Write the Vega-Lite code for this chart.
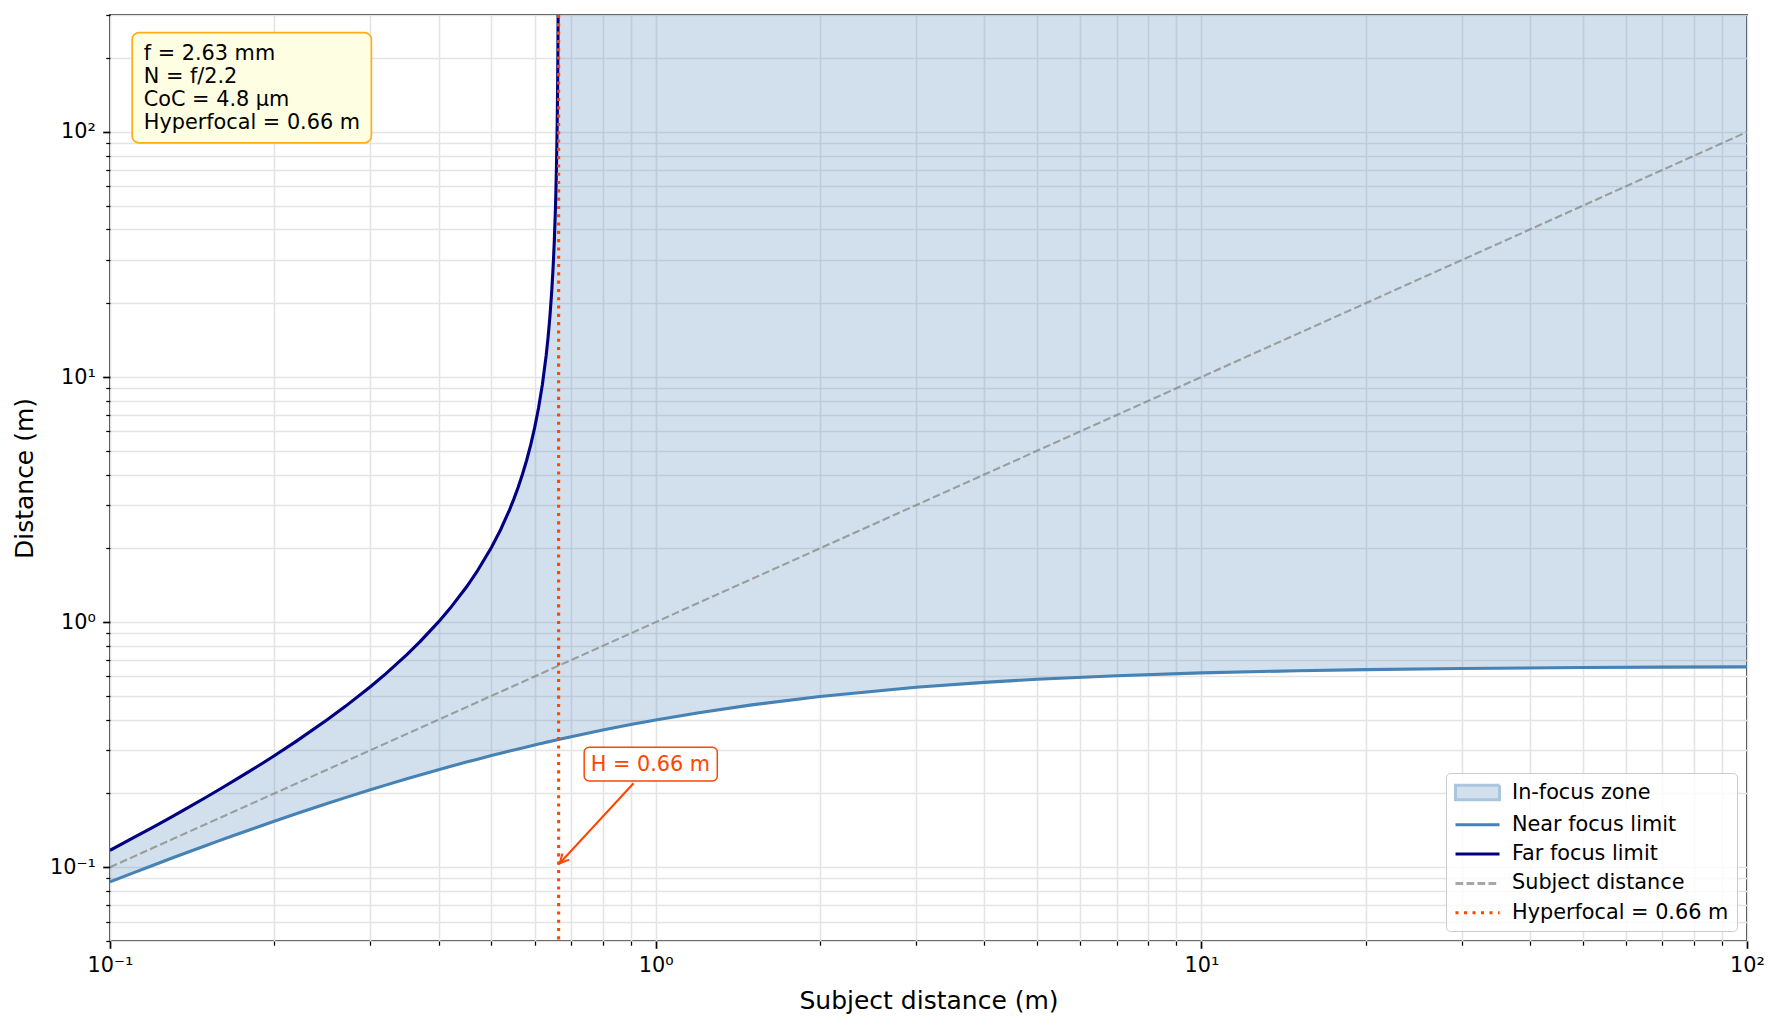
{
  "$schema": "https://vega.github.io/schema/vega-lite/v6.json",
  "autosize": {"type": "none"},
  "width": 1637,
  "height": 926,
  "padding": {"left": 110, "top": 15, "right": 33, "bottom": 88},
  "background": "white",
  "config": {
    "font": "DejaVu Sans",
    "view": {"stroke": "#000000", "strokeWidth": 1.7},
    "axis": {
      "domain": false,
      "labelFont": "DejaVu Sans",
      "labelFontSize": 20.8,
      "labelColor": "#000000",
      "labelOverlap": false,
      "labelFlush": false,
      "labelBound": false,
      "labelPadding": 7.3,
      "tickColor": "#000000",
      "titleFont": "DejaVu Sans",
      "titleFontSize": 25,
      "titleFontWeight": "normal",
      "titleColor": "#000000",
      "gridColor": "#e4e4e4",
      "gridWidth": 1.6
    },
    "legend": {
      "orient": "bottom-right",
      "offset": 10,
      "padding": 8,
      "fillColor": "rgba(255,255,255,0.8)",
      "strokeColor": "#cccccc",
      "cornerRadius": 4,
      "labelFont": "DejaVu Sans",
      "labelFontSize": 20.8,
      "labelColor": "#000000",
      "labelLimit": 400,
      "symbolSize": 400,
      "symbolOffset": 12,
      "labelOffset": 23,
      "rowPadding": 7.3,
      "symbolOpacity": 1,
      "symbolStrokeWidth": 3,
      "title": null
    }
  },
  "datasets": {
    "legendEntries": [
      {"series": "In-focus zone"},
      {"series": "Near focus limit"},
      {"series": "Far focus limit"},
      {"series": "Subject distance"},
      {"series": "Hyperfocal = 0.66 m"}
    ]
  },
  "data": {
    "values": [
      {"s": 0.1, "near": 0.08717, "far": 0.11726},
      {"s": 0.11, "near": 0.09464, "far": 0.13132},
      {"s": 0.12, "near": 0.10191, "far": 0.14589},
      {"s": 0.13, "near": 0.10901, "far": 0.16101},
      {"s": 0.14, "near": 0.11592, "far": 0.1767},
      {"s": 0.15, "near": 0.12267, "far": 0.19301},
      {"s": 0.16, "near": 0.12925, "far": 0.20996},
      {"s": 0.17, "near": 0.13567, "far": 0.2276},
      {"s": 0.18, "near": 0.14194, "far": 0.24597},
      {"s": 0.19, "near": 0.14806, "far": 0.26511},
      {"s": 0.2, "near": 0.15403, "far": 0.28507},
      {"s": 0.22, "near": 0.16558, "far": 0.32771},
      {"s": 0.25, "near": 0.18195, "far": 0.39938},
      {"s": 0.27, "near": 0.19227, "far": 0.45322},
      {"s": 0.3, "near": 0.20695, "far": 0.54508},
      {"s": 0.32, "near": 0.21624, "far": 0.61523},
      {"s": 0.35, "near": 0.22947, "far": 0.7372},
      {"s": 0.37, "near": 0.23787, "far": 0.83234},
      {"s": 0.4, "near": 0.24987, "far": 1.00208},
      {"s": 0.42, "near": 0.2575, "far": 1.13842},
      {"s": 0.45, "near": 0.26843, "far": 1.39073},
      {"s": 0.47, "near": 0.27539, "far": 1.60229},
      {"s": 0.5, "near": 0.28538, "far": 2.01637},
      {"s": 0.52, "near": 0.29176, "far": 2.38828},
      {"s": 0.54, "near": 0.29793, "far": 2.88016},
      {"s": 0.55, "near": 0.30094, "far": 3.19082},
      {"s": 0.56, "near": 0.3039, "far": 3.56122},
      {"s": 0.57, "near": 0.3068, "far": 4.01044},
      {"s": 0.58, "near": 0.30966, "far": 4.56661},
      {"s": 0.59, "near": 0.31248, "far": 5.27308},
      {"s": 0.6, "near": 0.31526, "far": 6.20034},
      {"s": 0.61, "near": 0.31798, "far": 7.47104},
      {"s": 0.62, "near": 0.32067, "far": 9.3193},
      {"s": 0.63, "near": 0.32331, "far": 12.2548},
      {"s": 0.635, "near": 0.32462, "far": 14.4817},
      {"s": 0.64, "near": 0.32591, "far": 17.6365},
      {"s": 0.645, "near": 0.3272, "far": 22.4518},
      {"s": 0.648, "near": 0.32797, "far": 26.7855},
      {"s": 0.65, "near": 0.32848, "far": 30.7065},
      {"s": 0.652, "near": 0.32899, "far": 35.934},
      {"s": 0.655, "near": 0.32974, "far": 48.133},
      {"s": 0.6565, "near": 0.33012, "far": 57.892},
      {"s": 0.658, "near": 0.3305, "far": 72.53},
      {"s": 0.6595, "near": 0.33088, "far": 96.927},
      {"s": 0.66, "near": 0.331, "far": 109.13},
      {"s": 0.6605, "near": 0.33113, "far": 124.81},
      {"s": 0.661, "near": 0.33125, "far": 145.72},
      {"s": 0.6615, "near": 0.33137, "far": 175.0},
      {"s": 0.662, "near": 0.3315, "far": 218.91},
      {"s": 0.6625, "near": 0.33162, "far": 292.1},
      {"s": 0.663, "near": 0.33175, "far": 438.5},
      {"s": 0.6635, "near": 0.33187, "far": 877.6},
      {"s": 0.7, "near": 0.34073},
      {"s": 0.8, "near": 0.36271},
      {"s": 0.9, "near": 0.38187},
      {"s": 1, "near": 0.39872},
      {"s": 1.2, "near": 0.42698},
      {"s": 1.5, "near": 0.45956},
      {"s": 2, "near": 0.4975},
      {"s": 3, "near": 0.54229},
      {"s": 4, "near": 0.56785},
      {"s": 5, "near": 0.58438},
      {"s": 7, "near": 0.60448},
      {"s": 10, "near": 0.6205},
      {"s": 15, "near": 0.63354},
      {"s": 20, "near": 0.64028},
      {"s": 30, "near": 0.64716},
      {"s": 50, "near": 0.65277},
      {"s": 70, "near": 0.65521},
      {"s": 100, "near": 0.65704}
    ]
  },
  "layer": [
    {
      "transform": [{"filter": "isValid(datum.far)"}],
      "mark": {"type": "area", "fill": "#4682b4", "opacity": 0.25, "clip": true},
      "encoding": {
        "x": {
          "field": "s", "type": "quantitative",
          "scale": {"type": "log", "domain": [0.1, 100], "nice": false},
          "axis": {
            "title": "Subject distance (m)",
            "titlePadding": 13,
            "values": [0.1,0.2,0.3,0.4,0.5,0.6,0.7,0.8,0.9,1,2,3,4,5,6,7,8,9,10,20,30,40,50,60,70,80,90,100],
            "labelExpr": "round(log(datum.value)/LN10*1000) == -1000 ? '10⁻¹' : round(log(datum.value)/LN10*1000) == 0 ? '10⁰' : round(log(datum.value)/LN10*1000) == 1000 ? '10¹' : round(log(datum.value)/LN10*1000) == 2000 ? '10²' : ''",
            "tickSize": {"condition": {"test": "abs(log(datum.value)/LN10 - round(log(datum.value)/LN10)) < 0.001", "value": 7.3}, "value": 4.2},
            "tickWidth": {"condition": {"test": "abs(log(datum.value)/LN10 - round(log(datum.value)/LN10)) < 0.001", "value": 1.7}, "value": 1.25}
          }
        },
        "y": {
          "field": "near", "type": "quantitative",
          "scale": {"type": "log", "domain": [0.05, 300], "nice": false},
          "axis": {
            "title": "Distance (m)",
            "titlePadding": 12,
            "values": [0.05,0.06,0.07,0.08,0.09,0.1,0.2,0.3,0.4,0.5,0.6,0.7,0.8,0.9,1,2,3,4,5,6,7,8,9,10,20,30,40,50,60,70,80,90,100,200,300],
            "labelExpr": "round(log(datum.value)/LN10*1000) == -1000 ? '10⁻¹' : round(log(datum.value)/LN10*1000) == 0 ? '10⁰' : round(log(datum.value)/LN10*1000) == 1000 ? '10¹' : round(log(datum.value)/LN10*1000) == 2000 ? '10²' : ''",
            "tickSize": {"condition": {"test": "abs(log(datum.value)/LN10 - round(log(datum.value)/LN10)) < 0.001", "value": 7.3}, "value": 4.2},
            "tickWidth": {"condition": {"test": "abs(log(datum.value)/LN10 - round(log(datum.value)/LN10)) < 0.001", "value": 1.7}, "value": 1.25}
          }
        },
        "y2": {"field": "far"}
      }
    },
    {
      "transform": [{"filter": "datum.s >= 0.6635"}],
      "mark": {"type": "area", "fill": "#4682b4", "opacity": 0.25, "clip": true},
      "encoding": {
        "x": {"field": "s", "type": "quantitative"},
        "y": {"field": "near", "type": "quantitative"},
        "y2": {"datum": 300}
      }
    },
    {
      "mark": {"type": "line", "stroke": "#808080", "strokeWidth": 2.08, "strokeDash": [7.7, 3.3], "opacity": 0.7, "clip": true},
      "encoding": {
        "x": {"field": "s", "type": "quantitative"},
        "y": {"field": "s", "type": "quantitative"}
      }
    },
    {
      "mark": {"type": "line", "stroke": "#4682b4", "strokeWidth": 3.1, "clip": true},
      "encoding": {
        "x": {"field": "s", "type": "quantitative"},
        "y": {"field": "near", "type": "quantitative"}
      }
    },
    {
      "transform": [{"filter": "isValid(datum.far)"}],
      "mark": {"type": "line", "stroke": "#000080", "strokeWidth": 3.1, "clip": true},
      "encoding": {
        "x": {"field": "s", "type": "quantitative"},
        "y": {"field": "far", "type": "quantitative"}
      }
    },
    {
      "data": {"values": [{}]},
      "mark": {"type": "rule", "stroke": "#ff4500", "strokeWidth": 3.1, "strokeDash": [3.1, 5.2], "clip": true},
      "encoding": {
        "x": {"datum": 0.664}
      }
    },
    {
      "data": {"values": [{}]},
      "mark": {"type": "rect", "fill": "#fefee3", "stroke": "#ffae1a", "strokeWidth": 1.7, "cornerRadius": 7},
      "encoding": {
        "x": {"datum": 0.1098},
        "x2": {"datum": 0.3013},
        "y": {"datum": 254.3},
        "y2": {"datum": 90.2}
      }
    },
    {
      "data": {"values": [{}]},
      "mark": {
        "type": "text",
        "text": ["f = 2.63 mm", "N = f/2.2", "CoC = 4.8 µm", "Hyperfocal = 0.66 m"],
        "align": "left",
        "baseline": "alphabetic",
        "fontSize": 20.8,
        "lineHeight": 23.2,
        "color": "#000000"
      },
      "encoding": {
        "x": {"datum": 0.1153},
        "y": {"datum": 197.4}
      }
    },
    {
      "data": {"values": [{}]},
      "mark": {"type": "rule", "stroke": "#ff4500", "strokeWidth": 2},
      "encoding": {
        "x": {"datum": 0.911},
        "y": {"datum": 0.22},
        "x2": {"datum": 0.667},
        "y2": {"datum": 0.1038}
      }
    },
    {
      "data": {"values": [{}]},
      "mark": {"type": "point", "shape": "M-0.5,1L0,0L0.5,1", "size": 324, "angle": 222.6, "filled": false, "stroke": "#ff4500", "strokeWidth": 2, "opacity": 1},
      "encoding": {
        "x": {"datum": 0.667},
        "y": {"datum": 0.1038}
      }
    },
    {
      "data": {"values": [{}]},
      "mark": {"type": "rect", "fill": "#ffffff", "stroke": "#ff4500", "strokeWidth": 1.5, "cornerRadius": 5},
      "encoding": {
        "x": {"datum": 0.7396},
        "x2": {"datum": 1.297},
        "y": {"datum": 0.3086},
        "y2": {"datum": 0.2249}
      }
    },
    {
      "data": {"values": [{}]},
      "mark": {"type": "text", "text": "H = 0.66 m", "align": "center", "baseline": "alphabetic", "fontSize": 20.8, "color": "#ff4500"},
      "encoding": {
        "x": {"datum": 0.978},
        "y": {"datum": 0.247}
      }
    },
    {
      "data": {"name": "legendEntries"},
      "mark": {"type": "point", "opacity": 0, "filled": false},
      "encoding": {
        "x": {"datum": 1},
        "y": {"datum": 1},
        "stroke": {
          "field": "series", "type": "nominal",
          "scale": {
            "domain": ["In-focus zone", "Near focus limit", "Far focus limit", "Subject distance", "Hyperfocal = 0.66 m"],
            "range": ["#aac5dc", "#4682b4", "#000080", "#a6a6a6", "#ff4500"]
          },
          "legend": {
            "encode": {
              "symbols": {
                "strokeWidth": {"value": {"expr": "datum.value === 'In-focus zone' ? 1.5 : datum.value === 'Subject distance' ? 2 : 3"}},
                "opacity": {"value": 1}
              }
            }
          }
        },
        "fill": {
          "field": "series", "type": "nominal",
          "scale": {
            "domain": ["In-focus zone", "Near focus limit", "Far focus limit", "Subject distance", "Hyperfocal = 0.66 m"],
            "range": ["#d1e0ec", "transparent", "transparent", "transparent", "transparent"]
          }
        },
        "shape": {
          "field": "series", "type": "nominal",
          "scale": {
            "domain": ["In-focus zone", "Near focus limit", "Far focus limit", "Subject distance", "Hyperfocal = 0.66 m"],
            "range": ["M-2.2,-0.73H2.2V0.73H-2.2Z", "M-2.2,0H2.2", "M-2.2,0H2.2", "M-2.2,0H2.2", "M-2.2,0H2.2"]
          }
        },
        "strokeDash": {
          "field": "series", "type": "nominal",
          "scale": {
            "domain": ["In-focus zone", "Near focus limit", "Far focus limit", "Subject distance", "Hyperfocal = 0.66 m"],
            "range": [[1, 0], [1, 0], [1, 0], [7.7, 3.3], [3, 5.5]]
          }
        }
      }
    }
  ]
}
